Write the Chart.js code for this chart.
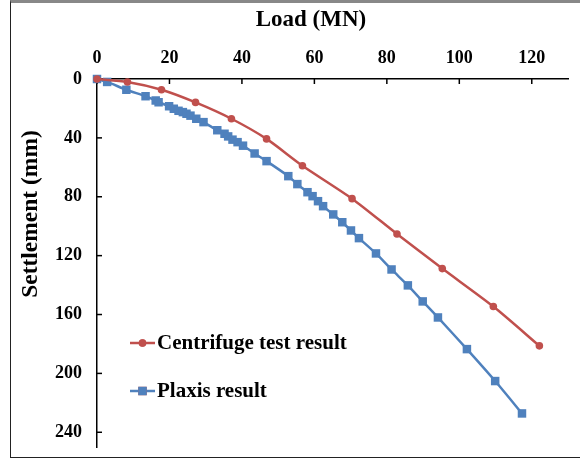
<!DOCTYPE html>
<html>
<head>
<meta charset="utf-8">
<script src="https://cdn.jsdelivr.net/npm/chart.js@4.4.0/dist/chart.umd.min.js"></script>
<style>
	html, body { margin: 0; padding: 0; background: #fff; }
	#wrap { position: relative; width: 580px; height: 461px; overflow: hidden; }
	#frame {
		position: absolute; left: 10px; top: 0; width: 580px; height: 458px;
		border-top: 3px solid #888; border-left: 1px solid #222; border-bottom: 1px solid #222;
		box-sizing: border-box;
	}
	#chart { position: absolute; left: 0; top: 0; }
</style>
</head>
<body>
<div id="wrap">
	<div id="frame"></div>
	<canvas id="chart" width="580" height="461"></canvas>
</div>
<script>
const serif = '"Liberation Serif", "Times New Roman", serif'

// Load (MN) vs settlement (mm)
const centrifugeLoad = [0, 8.4, 17.8, 27.2, 37.1, 46.8, 56.7, 70.4, 82.8, 95.3, 109.4, 122.1]
const centrifugeSettlement = [0, 2.0, 7.3, 15.9, 27.0, 40.7, 58.9, 81.3, 105.3, 128.8, 154.6, 181.3]

const plaxisLoad = [0, 2.8, 8.1, 13.4, 16.2, 17.0, 19.9, 21.2, 22.5, 23.7, 24.7, 25.8, 27.4, 29.4,
	33.2, 35.2, 36.2, 37.4, 38.8, 40.3, 43.5, 46.8, 52.8, 55.3, 58.1, 59.5, 61.0, 62.4, 65.2,
	67.7, 70.1, 72.3, 77.0, 81.3, 85.8, 89.9, 94.1, 102.1, 109.9, 117.3]
const plaxisSettlement = [0, 2.0, 7.3, 11.7, 14.6, 15.8, 18.5, 20.2, 21.6, 22.5, 23.6, 24.9, 27.0, 29.3,
	34.8, 37.2, 39.0, 41.2, 42.9, 45.3, 50.6, 55.8, 66.0, 71.4, 76.9, 79.6, 83.0, 86.4, 92.0,
	97.3, 102.9, 108.1, 118.5, 129.4, 140.2, 151.1, 162.0, 183.5, 205.2, 227.2]

const loadTicks = [0, 20, 40, 60, 80, 100, 120]
const settlementTicks = [0, 40, 80, 120, 160, 200, 240]

const red = "#C0504D"
const blue = "#4F81BD"

function toPoints(xs, ys) {
	return xs.map((x, i) => ({ x, y: ys[i] }))
}

// ticks point inwards, Excel style
const innerTicks = {
	id: "innerTicks",
	beforeDatasetsDraw(chart) {
		const { ctx, chartArea, scales } = chart
		ctx.save()
		ctx.strokeStyle = "#000"
		ctx.lineWidth = 1.5
		scales.x.ticks.forEach((t) => {
			const px = scales.x.getPixelForValue(t.value)
			ctx.beginPath()
			ctx.moveTo(px, chartArea.top)
			ctx.lineTo(px, chartArea.top + 5)
			ctx.stroke()
		})
		scales.y.ticks.forEach((t) => {
			const py = scales.y.getPixelForValue(t.value)
			ctx.beginPath()
			ctx.moveTo(chartArea.left, py)
			ctx.lineTo(chartArea.left + 5, py)
			ctx.stroke()
		})
		ctx.restore()
	},
}

const titlesAndLegend = {
	id: "titlesAndLegend",
	afterDraw(chart) {
		const { ctx } = chart
		ctx.save()
		ctx.fillStyle = "#000"
		ctx.font = `bold 23px ${serif}`
		ctx.textAlign = "center"
		ctx.textBaseline = "middle"
		ctx.fillText("Load (MN)", 311, 20)

		ctx.font = `bold 23.5px ${serif}`
		ctx.translate(31, 214)
		ctx.rotate(-Math.PI / 2)
		ctx.fillText("Settlement (mm)", 0, 0)
		ctx.restore()

		// legend inside plot area
		const rows = [343, 391]
		chart.data.datasets.forEach((ds, i) => {
			const y = rows[i]
			ctx.save()
			ctx.strokeStyle = ds.borderColor
			ctx.lineWidth = ds.borderWidth
			ctx.beginPath()
			ctx.moveTo(130, y)
			ctx.lineTo(155, y)
			ctx.stroke()
			Chart.helpers.drawPoint(ctx, {
				pointStyle: ds.pointStyle,
				radius: ds.pointRadius,
				borderWidth: 0,
			}, 142.5, y)
			ctx.fillStyle = ds.backgroundColor
			ctx.fill()
			ctx.fillStyle = "#000"
			ctx.font = `bold 21px ${serif}`
			ctx.textAlign = "left"
			ctx.textBaseline = "middle"
			ctx.fillText(ds.label, 157, y + 1)
			ctx.restore()
		})
	},
}

new Chart(document.getElementById("chart"), {
	type: "line",
	data: {
		datasets: [
			{
				label: "Centrifuge test result",
				data: toPoints(centrifugeLoad, centrifugeSettlement),
				borderColor: red,
				backgroundColor: red,
				borderWidth: 2.5,
				pointStyle: "circle",
				pointRadius: 3.8,
				pointBorderWidth: 0,
				tension: 0.25,
				clip: false,
			},
			{
				label: "Plaxis result",
				data: toPoints(plaxisLoad, plaxisSettlement),
				borderColor: blue,
				backgroundColor: blue,
				borderWidth: 2.5,
				pointStyle: "rect",
				pointRadius: 6,
				pointBorderWidth: 0,
				tension: 0.2,
				clip: false,
			},
		],
	},
	options: {
		responsive: false,
		animation: false,
		layout: { padding: { left: 0, top: 0, right: 12, bottom: 14 } },
		plugins: {
			legend: { display: false },
			tooltip: { enabled: false },
		},
		scales: {
			x: {
				type: "linear",
				position: "top",
				min: 0,
				max: 130,
				afterBuildTicks: (s) => { s.ticks = loadTicks.map((value) => ({ value })) },
				afterFit: (s) => {
					s.height = 79
					s.paddingLeft = 0
					s.paddingRight = 0
				},
				ticks: { color: "#000", padding: 10, font: { family: serif, size: 18, weight: "bold" } },
				grid: { display: true, drawOnChartArea: false, drawTicks: false },
				border: { display: true, color: "#000", width: 1.5 },
			},
			y: {
				type: "linear",
				reverse: true,
				min: 0,
				max: 250,
				afterBuildTicks: (s) => { s.ticks = settlementTicks.map((value) => ({ value })) },
				afterFit: (s) => {
					s.width = 97
					s.paddingTop = 0
					s.paddingBottom = 0
				},
				ticks: { color: "#000", padding: 15, font: { family: serif, size: 18, weight: "bold" } },
				grid: { display: true, drawOnChartArea: false, drawTicks: false },
				border: { display: true, color: "#000", width: 1.5 },
			},
		},
	},
	plugins: [innerTicks, titlesAndLegend],
})
</script>
</body>
</html>
